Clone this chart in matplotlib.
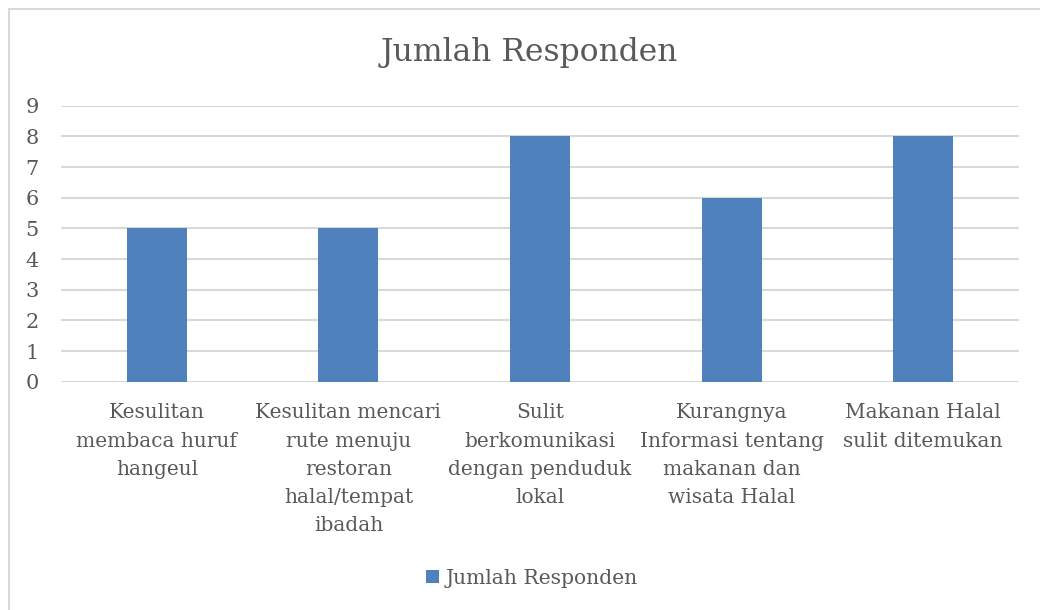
import matplotlib.pyplot as plt
from matplotlib.patches import Rectangle

kategori = [
    "Kesulitan\nmembaca huruf\nhangeul",
    "Kesulitan mencari\nrute menuju\nrestoran\nhalal/tempat\nibadah",
    "Sulit\nberkomunikasi\ndengan penduduk\nlokal",
    "Kurangnya\nInformasi tentang\nmakanan dan\nwisata Halal",
    "Makanan Halal\nsulit ditemukan",
]
jumlah = [5, 5, 8, 6, 8]
yticks = list(range(0, 10))

plt.rcParams['font.family'] = ['DejaVu Serif']
warna_teks = '#595959'

W, H = 1040, 610
fig = plt.figure(figsize=(W / 100, H / 100), dpi=100)
ax = fig.add_axes([61 / W, (H - 381.7) / H, (1019 - 61) / W, (381.7 - 105.7) / H])

x = list(range(len(kategori)))
ax.bar(x, jumlah, width=0.313, color='#4F81BD', zorder=3, label='Jumlah Responden')
ax.set_xlim(-0.5, len(kategori) - 0.5)
ax.set_ylim(0, 9)
ax.set_yticks(yticks)
ax.set_yticklabels([str(v) for v in yticks], fontsize=15, color=warna_teks)
ax.set_xticks(x)
ax.set_xticklabels(kategori, fontsize=14.5, color=warna_teks, linespacing=1.62)
ax.tick_params(axis='both', length=0)
ax.tick_params(axis='y', pad=16)
ax.tick_params(axis='x', pad=15.5)
ax.grid(axis='y', color='#D9D9D9', linewidth=1.5, zorder=0)
for s in ax.spines.values():
    s.set_visible(False)

fig.text(529 / W, 1 - 52 / H, 'Jumlah Responden', ha='center', va='center',
         fontsize=22.6, color=warna_teks)

fig.legend(loc='center', bbox_to_anchor=(532 / W, 1 - 578 / H), frameon=False,
           fontsize=14.6, handlelength=0.65, handleheight=0.65, handletextpad=0.3,
           labelcolor=warna_teks)

# bingkai grafik (kanan dan bawah terpotong)
fig.patches.append(Rectangle((8.5 / W, -10 / H), (1060 - 8.5) / W, (H + 10 - 9) / H,
                             transform=fig.transFigure, fill=False,
                             edgecolor='#D9D9D9', linewidth=1.5))

fig.savefig('out.png', dpi=100)
